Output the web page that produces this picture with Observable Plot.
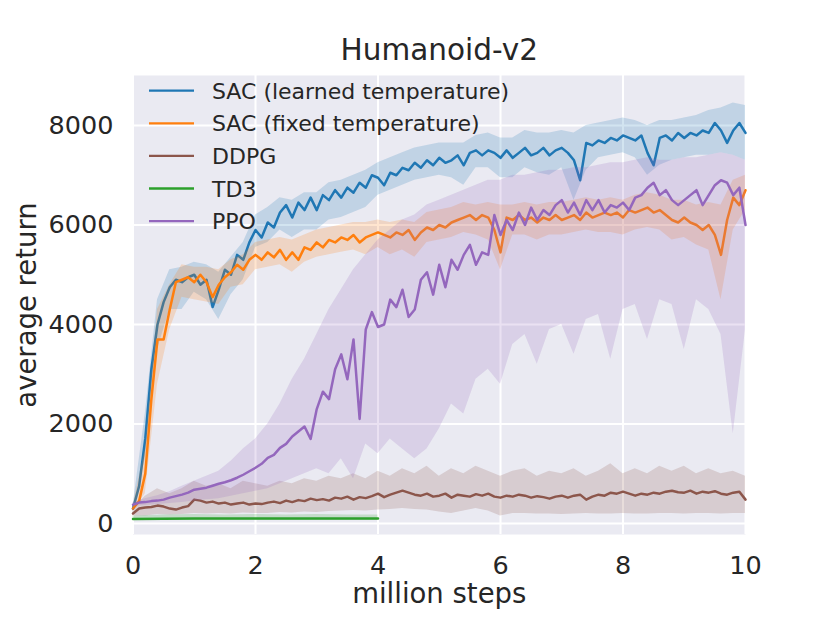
<!DOCTYPE html>
<html>
<head>
<meta charset="utf-8">
<script src="https://cdn.jsdelivr.net/npm/d3@7"></script>
<script src="https://cdn.jsdelivr.net/npm/@observablehq/plot@0.6"></script>
<style>
  html, body { margin: 0; padding: 0; background: white; }
  #wrap { position: relative; width: 829px; height: 622px; }
  #legend { position: absolute; left: 0; top: 0; pointer-events: none; }
</style>
</head>
<body>
<div id="wrap"></div>
<script>
// ---- data (million steps on x, average return on y) ----
const seriesNames = ["SAC (learned temperature)", "SAC (fixed temperature)", "DDPG", "TD3", "PPO"];
const seriesColors = ["#1f77b4", "#ff7f0e", "#8c564b", "#2ca02c", "#9467bd"];
const xTicks = [0, 2, 4, 6, 8, 10];
const yTicks = [0, 2000, 4000, 6000, 8000];

// means sampled every 0.1 million steps (0 .. 10)
const sacLearned = [
  300, 750, 1700, 3100, 4000, 4450, 4750, 4900, 4850, 4950,
  5000, 4800, 4900, 4350, 4700, 5100, 5000, 5400, 5300, 5650,
  5900, 5750, 6050, 5950, 6250, 6400, 6150, 6450, 6300, 6550,
  6300, 6600, 6500, 6700, 6550, 6750, 6650, 6850, 6750, 7000,
  6950, 6800, 7050, 7000, 7150, 7100, 7250, 7150, 7300, 7200,
  7350, 7250, 7300, 7400, 7200, 7450, 7500, 7400, 7500, 7450,
  7350, 7500, 7350, 7450, 7550, 7400, 7450, 7550, 7400, 7500,
  7550, 7450, 7300, 6900, 7650, 7600, 7700, 7650, 7750, 7700,
  7800, 7750, 7700, 7800, 7450, 7200, 7750, 7800, 7700, 7850,
  7750, 7850, 7800, 7900, 7850, 8050, 7900, 7650, 7900, 8050,
  7850];
const sacFixed = [
  300, 450, 1000, 2500, 3700, 3700, 4300, 4850, 4900, 4950,
  4850, 5000, 4850, 4550, 4800, 4950, 5050, 5200, 5100, 5300,
  5400, 5300, 5450, 5350, 5500, 5300, 5450, 5300, 5550, 5500,
  5650, 5550, 5700, 5650, 5750, 5700, 5800, 5650, 5750, 5800,
  5850, 5800, 5750, 5850, 5800, 5900, 5700, 5850, 5950, 5900,
  6000, 5950, 6050, 6100, 6150, 6200, 6100, 6200, 6150, 5900,
  5450, 6150, 6100, 6200, 6100, 6150, 6050, 6150, 6100, 6200,
  6100, 6150, 6200, 6100, 6250, 6150, 6200, 6250, 6200, 6250,
  6150, 6300, 6250, 6300, 6350, 6250, 6300, 6200, 6100, 6050,
  6150, 6050, 6000, 5900, 6000, 5800, 5400, 6100, 6550, 6400,
  6700];
const ddpg = [
  200, 300, 320, 330, 360, 340, 300, 280, 320, 350,
  480, 460, 420, 440, 400, 420, 380, 400, 420, 380,
  400, 390, 420, 440, 410, 460, 430, 470, 450, 500,
  470, 490, 460, 520, 500, 540, 480, 530, 510, 550,
  600, 530, 580, 620, 660, 620, 580, 560, 600, 540,
  560, 600, 520, 580, 560, 540, 590, 560, 600, 540,
  520, 560, 540, 580, 560, 520, 550, 530, 500, 540,
  560, 520, 560, 580, 480, 540, 580, 560, 620, 600,
  640, 600, 560, 600, 580, 620, 600, 640, 660, 630,
  620, 660, 600, 640, 620, 650, 600, 580, 620, 640,
  480];
const ppo = [
  380, 420, 430, 450, 460, 480, 520, 550, 580, 620,
  680, 700, 720, 760, 800, 830, 870, 920, 980, 1050,
  1120, 1200, 1320, 1380, 1520, 1600, 1750, 1850, 1950, 1700,
  2300, 2650, 2500, 3100, 3400, 2900, 3700, 2100, 3900, 4250,
  3950, 4000, 4500, 4350, 4700, 4150, 4300, 4900, 5050, 4600,
  5200, 4750, 5300, 5100, 5400, 5600, 5200, 5450, 5400, 6200,
  5800, 6100, 5900, 6250, 6000, 6350, 6100, 6300, 6200, 6400,
  6500, 6250, 6450, 6200, 6500, 6300, 6500, 6250, 6400, 6350,
  6450, 6300, 6550, 6600, 6750, 6850, 6600, 6700, 6500, 6400,
  6500, 6600, 6700, 6400, 6600, 6800, 6900, 6850, 6600, 6750,
  6000];

// shaded bands sampled every 0.2 million steps (0 .. 10)
const sacLearnedLo = [
  200, 1300, 3500, 4300, 4300, 4650, 4500, 4100, 4600, 4900,
  5550, 5650, 5900, 5750, 5900, 5900, 6100, 6150, 6250, 6350,
  6600, 6700, 6800, 6900, 6950, 7000, 6950, 6800, 7150, 7150,
  6950, 6950, 7150, 7050, 7000, 7150, 6500, 7100, 7350, 7400,
  7450, 7350, 7000, 7200, 7300, 7350, 7400, 7400, 7450, 7400,
  7300];
const sacLearnedHi = [
  350, 2200, 4500, 5100, 5150, 5250, 5200, 5050, 5350, 5650,
  6200, 6350, 6550, 6500, 6650, 6650, 6850, 6900, 7000, 7100,
  7250, 7350, 7450, 7550, 7600, 7650, 7650, 7650, 7800, 7850,
  7750, 7750, 7900, 7850, 7850, 7900, 7850, 8000, 8050, 8100,
  8150, 8100, 8000, 8100, 8100, 8150, 8200, 8300, 8350, 8450,
  8400];
const sacFixedLo = [
  250, 600, 2800, 3900, 4550, 4500, 4450, 4400, 4750, 4800,
  5100, 5150, 5200, 5050, 5250, 5350, 5400, 5450, 5500, 5400,
  5550, 5400, 5500, 5350, 5650, 5700, 5750, 5850, 5800, 5700,
  5100, 5800, 5800, 5700, 5800, 5800, 5850, 5900, 5850, 5850,
  5800, 5900, 5950, 5900, 5700, 5750, 5600, 5500, 4500, 5900,
  6300];
const sacFixedHi = [
  350, 1500, 4300, 4800, 5200, 5150, 5150, 5100, 5300, 5400,
  5650, 5700, 5750, 5700, 5800, 5900, 5950, 6000, 6050, 6050,
  6100, 6050, 6100, 6050, 6250, 6300, 6350, 6450, 6400, 6450,
  6400, 6400, 6450, 6400, 6450, 6450, 6500, 6550, 6500, 6550,
  6500, 6600, 6650, 6600, 6500, 6500, 6400, 6450, 6400, 6900,
  7000];
const ddpgLo = [
  150, 150, 180, 170, 180, 200, 190, 200, 190, 210,
  200, 200, 220, 210, 230, 220, 240, 250, 260, 250,
  270, 280, 300, 280, 270, 230, 200, 250, 300, 250,
  150, 200, 200, 190, 190, 180, 190, 200, 190, 190,
  200, 190, 190, 200, 200, 190, 200, 200, 190, 200,
  200];
const ddpgHi = [
  300, 550, 700, 600, 700, 850, 750, 800, 700, 850,
  800, 750, 850, 800, 900, 850, 950, 900, 1000, 900,
  1050, 950, 1100, 1000, 1150, 950, 1100, 1000, 1150, 1050,
  950, 1050, 1100, 950, 1050, 1000, 1100, 950, 1050, 1200,
  1000, 1100, 1000, 1150, 1050, 1150, 1000, 1100, 1000, 1050,
  950];
const ppoLo = [
  340, 360, 380, 400, 420, 450, 480, 500, 550, 600,
  650, 700, 800, 900, 1000, 1100, 1000, 1300, 900, 1600,
  1400, 1700, 1500, 1300, 1500, 1900, 2400, 2200, 2900, 3100,
  2800, 3600, 3800, 3200, 3900, 4000, 3400, 4100, 4200, 3300,
  4300, 4400, 3700, 4500, 4400, 3500, 4500, 4300, 3800, 1800,
  3900];
const ppoHi = [
  420, 500, 560, 640, 750, 850, 950, 1050, 1250, 1500,
  1700, 2000, 2400, 2900, 3300, 3800, 4300, 4700, 5100, 5400,
  5700, 5900, 6100, 6200, 6400, 6500, 6600, 6700, 6800, 6900,
  6900, 7000, 7000, 7050, 7100, 7100, 7150, 7150, 7200, 7250,
  7250, 7300, 7350, 7300, 7300, 7350, 7350, 7400, 7450, 7400,
  7300];

// TD3 only runs to 4 million steps, sampled every 0.5
const td3Steps = [0, 0.5, 1, 1.5, 2, 2.5, 3, 3.5, 4];
const td3 = [90, 95, 100, 100, 100, 100, 100, 100, 100];
const td3Lo = [60, 60, 60, 60, 60, 60, 60, 60, 60];
const td3Hi = [150, 170, 180, 170, 180, 170, 180, 170, 170];

// ---- build tables ----
const meanRows = (arr) => arr.map((v, i) => ({t: i / 10, v}));
const bandRows = (lo, hi) => lo.map((l, i) => ({t: i / 5, lo: l, hi: hi[i]}));

const series = [
  {mean: meanRows(sacLearned), band: bandRows(sacLearnedLo, sacLearnedHi)},
  {mean: meanRows(sacFixed), band: bandRows(sacFixedLo, sacFixedHi)},
  {mean: meanRows(ddpg), band: bandRows(ddpgLo, ddpgHi)},
  {mean: td3.map((v, i) => ({t: td3Steps[i], v})),
   band: td3Lo.map((l, i) => ({t: td3Steps[i], lo: l, hi: td3Hi[i]}))},
  {mean: meanRows(ppo), band: bandRows(ppoLo, ppoHi)}
];

const dataMarks = [];
series.forEach((s, k) => {
  dataMarks.push(Plot.areaY(s.band, {x: "t", y1: "lo", y2: "hi", fill: seriesColors[k], fillOpacity: 0.2}));
  dataMarks.push(Plot.lineY(s.mean, {x: "t", y: "v", stroke: seriesColors[k], strokeWidth: 2.5}));
});

const chart = Plot.plot({
  width: 829,
  height: 622,
  marginLeft: 132.5,
  marginRight: 84,
  marginTop: 75,
  marginBottom: 88,
  style: {background: "white", fontFamily: "DejaVu Sans", fontSize: "25.5px", color: "#262626", overflow: "visible"},
  x: {domain: [0, 10]},
  y: {domain: [-221, 9005]},
  marks: [
    Plot.frame({fill: "#EAEAF2", stroke: null}),
    Plot.gridX(xTicks, {stroke: "white", strokeOpacity: 1, strokeWidth: 2}),
    Plot.gridY(yTicks, {stroke: "white", strokeOpacity: 1, strokeWidth: 2}),
    ...dataMarks,
    Plot.axisX(xTicks, {tickSize: 0, tickPadding: 21, label: null}),
    Plot.axisY(yTicks, {tickSize: 0, tickPadding: 19.5, label: null, tickFormat: d3.format("d")}),
    Plot.text(["Humanoid-v2"], {text: d => d, frameAnchor: "top", lineAnchor: "middle", textAnchor: "middle", dy: -25, fontSize: 29.5}),
    Plot.text(["million steps"], {text: d => d, frameAnchor: "bottom", lineAnchor: "middle", textAnchor: "middle", dy: 60, fontSize: 27.5}),
    Plot.text(["average return"], {text: d => d, frameAnchor: "left", lineAnchor: "middle", textAnchor: "middle", dx: -106, rotate: -90, fontSize: 27.5})
  ]
});

const wrap = document.getElementById("wrap");
wrap.appendChild(chart);

// ---- legend (inside the plot, top-left, no frame) ----
const legendRowY = [90.7, 123.3, 155.9, 188.5, 221.1];
const NS = "http://www.w3.org/2000/svg";
const lg = document.createElementNS(NS, "svg");
lg.setAttribute("id", "legend");
lg.setAttribute("width", 829);
lg.setAttribute("height", 622);
seriesNames.forEach((name, i) => {
  const ln = document.createElementNS(NS, "line");
  ln.setAttribute("x1", 149); ln.setAttribute("x2", 194);
  ln.setAttribute("y1", legendRowY[i]); ln.setAttribute("y2", legendRowY[i]);
  ln.setAttribute("stroke", seriesColors[i]);
  ln.setAttribute("stroke-width", 2.3);
  lg.appendChild(ln);
  const tx = document.createElementNS(NS, "text");
  tx.setAttribute("x", 212);
  tx.setAttribute("y", legendRowY[i] + 8);
  tx.setAttribute("font-family", "DejaVu Sans");
  tx.setAttribute("font-size", 22);
  tx.setAttribute("fill", "#262626");
  tx.textContent = name;
  lg.appendChild(tx);
});
wrap.appendChild(lg);
</script>
</body>
</html>
